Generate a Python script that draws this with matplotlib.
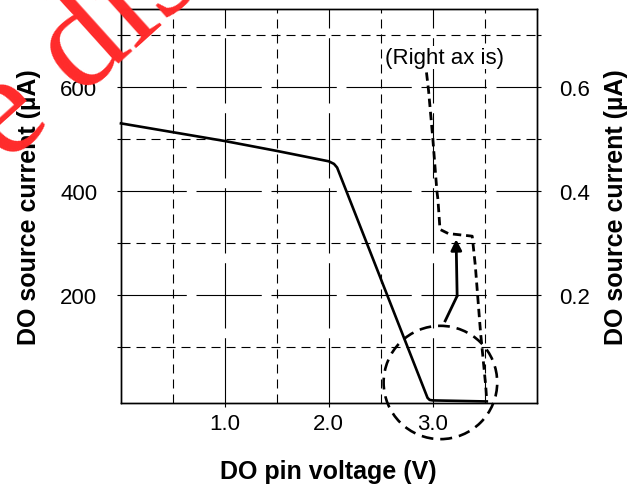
import numpy as np
import matplotlib
matplotlib.use("Agg")
import matplotlib.pyplot as plt
from matplotlib.patches import Ellipse

plt.rcParams['font.family'] = ['Liberation Sans', 'DejaVu Sans']
plt.rcParams['lines.scale_dashes'] = False

# left axis curve (uA)
v_left = [0.0, 1.0, 1.5, 2.0, 2.05, 2.08, 2.95, 2.97, 3.0, 3.52]
i_left = [530, 496, 477, 457, 452, 445, 2, -2, -3, -5]

# right axis curve (uA), dashed
v_right = [2.94, 2.96, 3.0, 3.04, 3.05, 3.07, 3.15, 3.38, 3.41, 3.46, 3.51, 3.52]
i_right = [0.628, 0.593, 0.503, 0.400, 0.384, 0.326, 0.318, 0.313, 0.256, 0.128, 0.025, -0.005]

# arrow path (left axis units)
arrow_v = [3.12, 3.235, 3.225]
arrow_i = [150, 198, 307]

x_major = [1.0, 2.0, 3.0]
x_minor = [0.5, 1.5, 2.5, 3.5]
y_major = [200, 400, 600]
y_minor = [100, 300, 500, 700]
x_labels = ["1.0", "2.0", "3.0"]

fig = plt.figure(figsize=(6.4, 4.89), dpi=100)
ax = fig.add_axes([0.189, 0.1738, 0.6495, 0.8057])
ax2 = ax.twinx()

ax.set_xlim(0, 4)
ax.set_ylim(-8, 750)
ax2.set_ylim(-0.008, 0.750)

major_ls = (0, (47, 7))
minor_ls = (0, (6.5, 4.3))
for x in x_major:
    ax.axvline(x, color='k', lw=0.8, ls=major_ls, zorder=1)
for x in x_minor:
    ax.axvline(x, color='k', lw=0.8, ls=minor_ls, zorder=1)
for y in y_major:
    ax.axhline(y, color='k', lw=0.8, ls=major_ls, zorder=1)
for y in y_minor:
    ax.axhline(y, color='k', lw=0.8, ls=minor_ls, zorder=1)

ax.plot(v_left, i_left, color='k', lw=1.9, zorder=3, clip_on=False)
ax2.plot(v_right, i_right, color='k', lw=2.0, ls=(0, (6, 3.5)), zorder=3, clip_on=False)

ax.plot(arrow_v[:2], arrow_i[:2], color='k', lw=2.0, zorder=4)
ax.annotate('', xy=(arrow_v[2], arrow_i[2]), xytext=(arrow_v[1], arrow_i[1]),
            arrowprops=dict(arrowstyle='-|>', color='k', lw=2.0, mutation_scale=16,
                            shrinkA=0, shrinkB=0), zorder=4)

circ = Ellipse((3.074, 31.5), 1.093, 218, fill=False, ec='k', lw=1.9,
               ls=(0, (8.5, 5)), clip_on=False, zorder=4)
ax.add_patch(circ)

ax.text(3.115, 657, "(Right ax is)", fontsize=16, ha='center', va='center', zorder=5,
        bbox=dict(facecolor='white', edgecolor='none', pad=0.5))

ax.set_xticks(x_major)
ax.set_xticklabels(x_labels)
ax.set_xticks(x_minor, minor=True)
ax.set_yticks(y_major)
ax.set_yticks(y_minor, minor=True)
ax2.set_yticks([0.2, 0.4, 0.6])
ax2.set_yticklabels(["0.2", "0.4", "0.6"])
ax2.set_yticks([0.1, 0.3, 0.5, 0.7], minor=True)

ax.tick_params(axis='x', which='major', direction='out', length=3, width=0.8, pad=4, labelsize=16)
ax.tick_params(axis='x', which='minor', length=0)
ax.tick_params(axis='y', which='both', direction='out', length=3, width=0.8, pad=14, labelsize=16)
ax2.tick_params(axis='y', which='both', direction='out', length=3, width=0.8, pad=13, labelsize=16)

for a in (ax, ax2):
    for s in a.spines.values():
        s.set_linewidth(1.0)

ax.set_xlabel("DO pin voltage (V)", fontsize=18, fontweight='bold', labelpad=18)
ax.set_ylabel("DO source current (\u00b5A)", fontsize=18, fontweight='bold', labelpad=14)
ax2.set_ylabel("DO source current (\u00b5A)", fontsize=18, fontweight='bold', rotation=90,
               labelpad=10)

# red watermark running off the top-left corner
fig.text(0.130, 0.898, "e dis", color='#ff2a2a', fontsize=104, family='Liberation Serif',
         rotation=42, ha='center', va='center', rotation_mode='anchor', zorder=10)

fig.savefig("out.png", dpi=100)
